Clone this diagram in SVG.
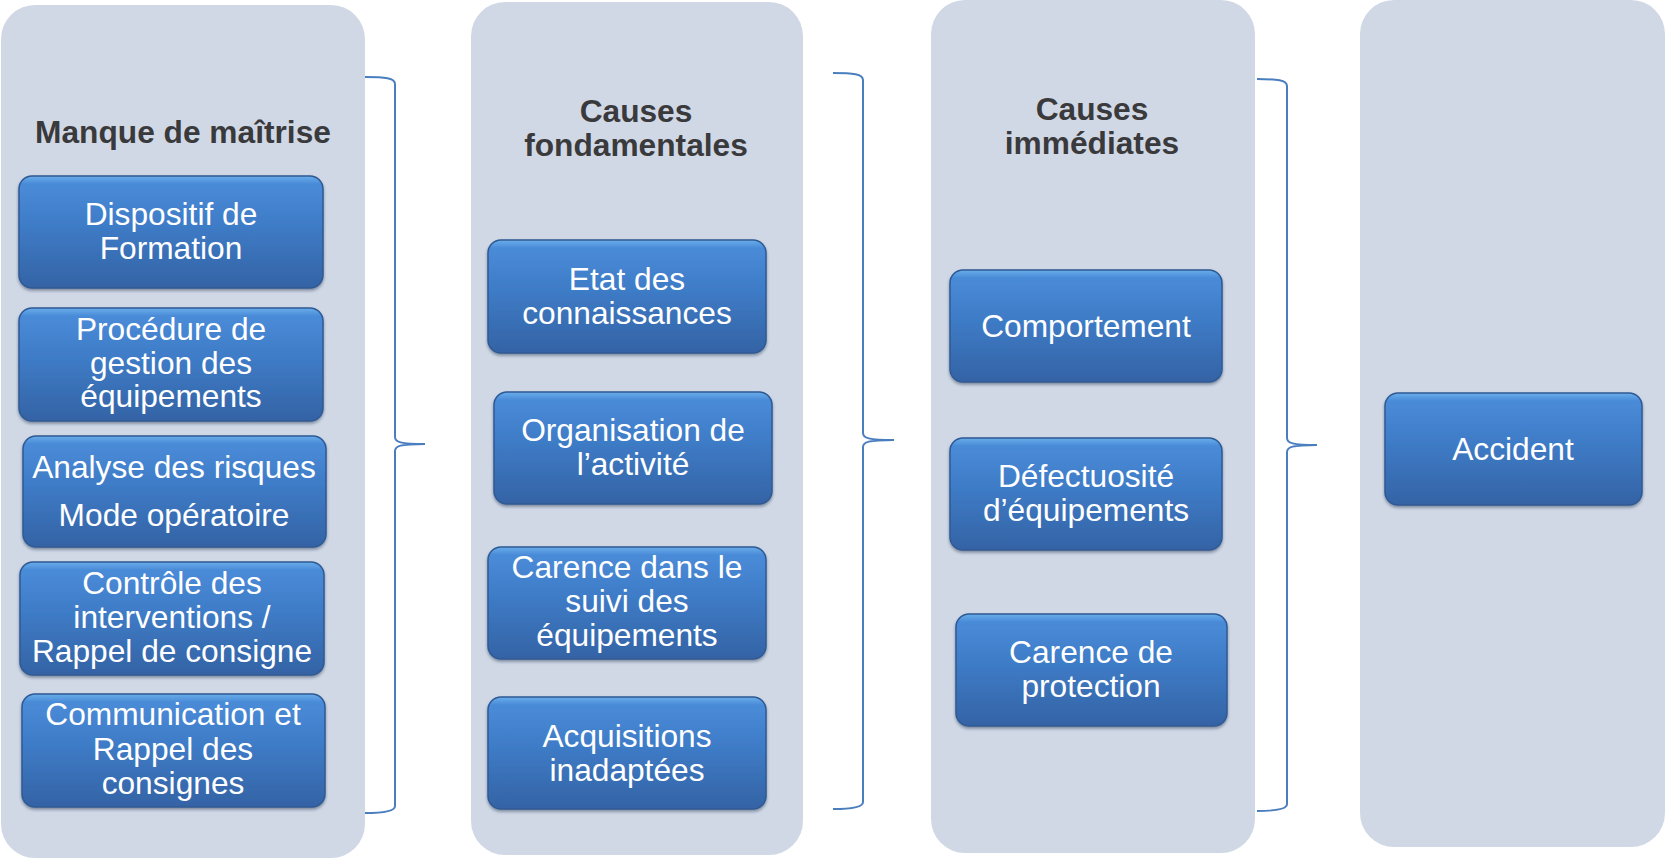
<svg xmlns="http://www.w3.org/2000/svg" width="1666" height="859" viewBox="0 0 1666 859">
<defs>
<linearGradient id="boxg" x1="0" y1="0" x2="0" y2="1">
<stop offset="0" stop-color="#6aaeea"/>
<stop offset="0.07" stop-color="#4a8bd8"/>
<stop offset="0.45" stop-color="#3e7bc6"/>
<stop offset="1" stop-color="#3463a5"/>
</linearGradient>
<filter id="sh" x="-5%" y="-5%" width="110%" height="115%">
<feDropShadow dx="0" dy="2" stdDeviation="1.8" flood-color="#1a2a44" flood-opacity="0.45"/>
</filter>
</defs>
<style>
.panel{fill:#d0d8e6;}
.box{fill:url(#boxg);stroke:#2f5a94;stroke-width:1.5;filter:url(#sh);}
.bt{font-family:"Liberation Sans",Arial,sans-serif;font-size:31.7px;fill:#ffffff;text-anchor:middle;}
.hd{font-family:"Liberation Sans",Arial,sans-serif;font-size:31.7px;font-weight:bold;fill:#3a3a3c;text-anchor:middle;}
.br{fill:none;stroke:#4a7ebf;stroke-width:2;}
</style>
<rect width="1666" height="859" fill="#ffffff"/>
<g id="panel-maitrise">
<rect class="panel" x="1" y="5" width="364" height="853" rx="34"/>
<text class="hd" x="183" y="143">Manque de maîtrise</text>
</g>
<g id="panel-fondamentales">
<rect class="panel" x="471" y="2" width="332" height="853" rx="34"/>
<text class="hd" x="636" y="122">Causes</text>
<text class="hd" x="636" y="156">fondamentales</text>
</g>
<g id="panel-immediates">
<rect class="panel" x="931" y="0" width="324" height="853" rx="34"/>
<text class="hd" x="1092" y="120">Causes</text>
<text class="hd" x="1092" y="154">immédiates</text>
</g>
<g id="panel-accident">
<rect class="panel" x="1360" y="0" width="305" height="847" rx="34"/>
</g>
<g id="connectors">
<path class="br" d="M365,77 C385,77 395,78 395,84 L395,437 C395,442 400,444 425,444 C400,444 395,446 395,451 L395,806 C395,811 385,813 365,813"/>
<path class="br" d="M833,73 C853,73 863,74 863,80 L863,433 C863,438 868,440 894,440 C868,440 863,442 863,447 L863,802 C863,807 853,809 833,809"/>
<path class="br" d="M1257,79 C1277,79 1287,80 1287,86 L1287,438 C1287,443 1292,445 1317,445 C1292,445 1287,447 1287,452 L1287,804 C1287,809 1277,811 1257,811"/>
</g>
<g id="n-dispositif">
<rect class="box" x="19" y="176" width="304" height="112" rx="13"/>
<text class="bt" x="171" y="225">Dispositif de</text>
<text class="bt" x="171" y="259">Formation</text>
</g>
<g id="n-procedure">
<rect class="box" x="19" y="308" width="304" height="113" rx="13"/>
<text class="bt" x="171" y="340">Procédure de</text>
<text class="bt" x="171" y="374">gestion des</text>
<text class="bt" x="171" y="407">équipements</text>
</g>
<g id="n-analyse">
<rect class="box" x="23" y="436" width="303" height="111" rx="13"/>
<text class="bt" x="174" y="478">Analyse des risques</text>
<text class="bt" x="174" y="526">Mode opératoire</text>
</g>
<g id="n-controle">
<rect class="box" x="20" y="562" width="304" height="113" rx="13"/>
<text class="bt" x="172" y="594">Contrôle des</text>
<text class="bt" x="172" y="628">interventions /</text>
<text class="bt" x="172" y="662">Rappel de consigne</text>
</g>
<g id="n-communication">
<rect class="box" x="22" y="694" width="303" height="113" rx="13"/>
<text class="bt" x="173" y="725">Communication et</text>
<text class="bt" x="173" y="760">Rappel des</text>
<text class="bt" x="173" y="794">consignes</text>
</g>
<g id="n-etat">
<rect class="box" x="488" y="240" width="278" height="113" rx="13"/>
<text class="bt" x="627" y="290">Etat des</text>
<text class="bt" x="627" y="324">connaissances</text>
</g>
<g id="n-organisation">
<rect class="box" x="494" y="392" width="278" height="112" rx="13"/>
<text class="bt" x="633" y="441">Organisation de</text>
<text class="bt" x="633" y="475">l’activité</text>
</g>
<g id="n-carence-suivi">
<rect class="box" x="488" y="547" width="278" height="112" rx="13"/>
<text class="bt" x="627" y="578">Carence dans le</text>
<text class="bt" x="627" y="612">suivi des</text>
<text class="bt" x="627" y="646">équipements</text>
</g>
<g id="n-acquisitions">
<rect class="box" x="488" y="697" width="278" height="112" rx="13"/>
<text class="bt" x="627" y="747">Acquisitions</text>
<text class="bt" x="627" y="781">inadaptées</text>
</g>
<g id="n-comportement">
<rect class="box" x="950" y="270" width="272" height="112" rx="13"/>
<text class="bt" x="1086" y="337">Comportement</text>
</g>
<g id="n-defectuosite">
<rect class="box" x="950" y="438" width="272" height="112" rx="13"/>
<text class="bt" x="1086" y="487">Défectuosité</text>
<text class="bt" x="1086" y="521">d’équipements</text>
</g>
<g id="n-carence-protection">
<rect class="box" x="956" y="614" width="271" height="112" rx="13"/>
<text class="bt" x="1091" y="663">Carence de</text>
<text class="bt" x="1091" y="697">protection</text>
</g>
<g id="n-accident">
<rect class="box" x="1385" y="393" width="257" height="112" rx="13"/>
<text class="bt" x="1513" y="460">Accident</text>
</g>
</svg>
